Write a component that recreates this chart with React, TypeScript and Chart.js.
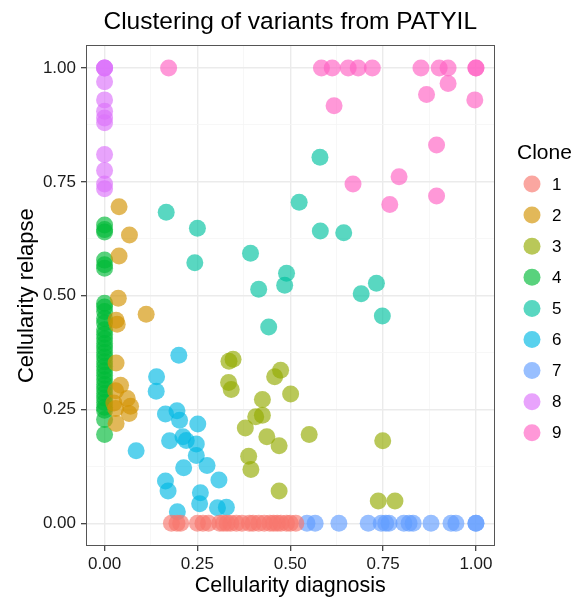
import React, { useEffect, useRef } from 'react';
import { Chart, registerables } from 'chart.js';

Chart.register(...registerables);

const chartTitle = 'Clustering of variants from PATYIL';
const xAxisTitle = 'Cellularity diagnosis';
const yAxisTitle = 'Cellularity relapse';
const legendTitle = 'Clone';

const cloneNames = ['1', '2', '3', '4', '5', '6', '7', '8', '9'];
const cloneColors = ['#F8766D', '#D39200', '#93AA00', '#00BA38', '#00C19F', '#00B9E3', '#619CFF', '#DB72FB', '#FF61C3'];

const majorTicks = [0, 0.25, 0.5, 0.75, 1];
const tickLabels = ['0.00', '0.25', '0.50', '0.75', '1.00'];
const minorTicks = [0.125, 0.375, 0.625, 0.875];

const clone1X = [0.18, 0.195, 0.205, 0.25, 0.265, 0.28, 0.31, 0.32, 0.33, 0.34, 0.355, 0.37, 0.39, 0.4, 0.415, 0.43, 0.445, 0.455, 0.465, 0.475, 0.49, 0.5, 0.515];
const clone1Y = [0, 0, 0, 0, 0, 0, 0, 0, 0, 0, 0, 0, 0, 0, 0, 0, 0, 0, 0, 0, 0, 0, 0];

const clone2X = [0.039, 0.067, 0.039, 0.037, 0.112, 0.031, 0.034, 0.031, 0.043, 0.03, 0.061, 0.07, 0.066, 0.03, 0.031, 0.025];
const clone2Y = [0.695, 0.633, 0.587, 0.494, 0.459, 0.446, 0.437, 0.352, 0.303, 0.291, 0.274, 0.257, 0.241, 0.252, 0.219, 0.264];

const clone3X = [0.335, 0.346, 0.334, 0.341, 0.474, 0.458, 0.501, 0.425, 0.425, 0.407, 0.379, 0.437, 0.47, 0.551, 0.749, 0.388, 0.394, 0.47, 0.737, 0.782];
const clone3Y = [0.356, 0.36, 0.309, 0.294, 0.336, 0.322, 0.284, 0.272, 0.237, 0.234, 0.209, 0.19, 0.17, 0.195, 0.181, 0.147, 0.118, 0.071, 0.049, 0.049];

const clone4X = [0, 0, 0, 0, 0, 0, 0, 0, 0, 0, 0, 0, 0, 0, 0, 0, 0, 0, 0, 0, 0, 0, 0, 0, 0, 0, 0, 0, 0, 0, 0, 0];
const clone4Y = [0.655, 0.645, 0.64, 0.578, 0.568, 0.56, 0.483, 0.475, 0.465, 0.45, 0.44, 0.425, 0.415, 0.405, 0.395, 0.385, 0.375, 0.365, 0.355, 0.345, 0.335, 0.325, 0.315, 0.305, 0.295, 0.285, 0.275, 0.265, 0.255, 0.248, 0.228, 0.195];

const clone5X = [0.166, 0.25, 0.243, 0.393, 0.415, 0.442, 0.49, 0.485, 0.58, 0.524, 0.581, 0.644, 0.732, 0.691, 0.748];
const clone5Y = [0.683, 0.648, 0.572, 0.593, 0.514, 0.431, 0.549, 0.523, 0.804, 0.705, 0.642, 0.638, 0.527, 0.504, 0.455];

const clone6X = [0.2, 0.14, 0.139, 0.164, 0.195, 0.202, 0.251, 0.175, 0.211, 0.22, 0.247, 0.247, 0.085, 0.213, 0.276, 0.164, 0.171, 0.308, 0.258, 0.256, 0.304, 0.328, 0.196];
const clone6Y = [0.369, 0.322, 0.29, 0.24, 0.247, 0.226, 0.218, 0.181, 0.19, 0.182, 0.174, 0.149, 0.159, 0.122, 0.127, 0.093, 0.071, 0.095, 0.067, 0.043, 0.034, 0.035, 0.025];

const clone7X = [0.545, 0.567, 0.631, 0.71, 0.745, 0.757, 0.766, 0.806, 0.82, 0.831, 0.879, 0.933, 0.946, 1.0, 1.0];
const clone7Y = [0, 0, 0, 0, 0, 0, 0, 0, 0, 0, 0, 0, 0, 0, 0];

const clone8X = [0, 0, 0, 0, 0, 0, 0, 0, 0, 0, 0, 0];
const clone8Y = [1.0, 1.0, 1.0, 0.97, 0.93, 0.905, 0.89, 0.88, 0.81, 0.775, 0.745, 0.735];

const clone9X = [0.1725, 0.584, 0.613, 0.656, 0.683, 0.721, 0.852, 0.901, 0.925, 1.0, 1.0, 0.925, 0.867, 0.997, 0.618, 0.894, 0.793, 0.669, 0.768, 0.894];
const clone9Y = [1, 1, 1, 1, 1, 1, 1, 1, 1, 1, 1, 0.966, 0.942, 0.93, 0.917, 0.831, 0.761, 0.745, 0.7, 0.719];

const cloneXs = [clone1X, clone2X, clone3X, clone4X, clone5X, clone6X, clone7X, clone8X, clone9X];
const cloneYs = [clone1Y, clone2Y, clone3Y, clone4Y, clone5Y, clone6Y, clone7Y, clone8Y, clone9Y];

const FONT = '"Liberation Sans", Arial, Helvetica, sans-serif';
const ALPHA = 0.65;

function withAlpha(hex: string, a: number) {
  const r = parseInt(hex.slice(1, 3), 16);
  const g = parseInt(hex.slice(3, 5), 16);
  const b = parseInt(hex.slice(5, 7), 16);
  return `rgba(${r},${g},${b},${a})`;
}

const isMajor = (v: number) => majorTicks.some((m) => Math.abs(m - v) < 1e-9);
const gridValues = [...majorTicks, ...minorTicks].sort((a, b) => a - b);

function makeScale(isX: boolean) {
  return {
    type: 'linear',
    min: -0.05,
    max: 1.05,
    afterBuildTicks: (axis: any) => {
      axis.ticks = gridValues.map((v) => ({ value: v }));
    },
    afterFit: (axis: any) => {
      if (isX) axis.height = 51;
      else axis.width = 86;
    },
    ticks: {
      autoSkip: false,
      maxRotation: 0,
      padding: isX ? 3 : 5,
      color: '#1a1a1a',
      font: { family: FONT, size: 17 },
      callback: (v: number) => {
        const k = majorTicks.findIndex((m) => Math.abs(m - v) < 1e-9);
        return k >= 0 ? tickLabels[k] : '';
      },
    },
    grid: {
      color: (ctx: any) => (ctx.tick && isMajor(ctx.tick.value) ? '#EBEBEB' : '#F5F5F5'),
      lineWidth: (ctx: any) => (ctx.tick && isMajor(ctx.tick.value) ? 1.4 : 0.8),
      tickColor: (ctx: any) => (ctx.tick && isMajor(ctx.tick.value) ? '#333333' : 'rgba(0,0,0,0)'),
      tickLength: 5,
      tickWidth: 1.2,
    },
    border: { display: false },
    title: {
      display: true,
      text: isX ? xAxisTitle : yAxisTitle,
      color: '#000',
      font: isX ? { family: FONT, size: 21.5, lineHeight: 1.05 } : { family: FONT, size: 22, lineHeight: 1.2 },
      padding: isX ? { top: 0, bottom: 0 } : { top: 14, bottom: 0 },
    },
  };
}

const panelAndLegend = {
  id: 'panelAndLegend',
  afterDraw(chart: any) {
    const { ctx, chartArea } = chart;
    ctx.save();
    ctx.strokeStyle = '#555555';
    ctx.lineWidth = 1;
    ctx.strokeRect(
      Math.round(chartArea.left) + 0.5,
      Math.round(chartArea.top) + 0.5,
      Math.round(chartArea.right - chartArea.left) - 1,
      Math.round(chartArea.bottom - chartArea.top) - 1
    );
    ctx.fillStyle = '#000';
    ctx.textBaseline = 'middle';
    ctx.textAlign = 'left';
    ctx.font = `21px ${FONT}`;
    ctx.fillText(legendTitle, 517, 153);
    ctx.font = `17px ${FONT}`;
    chart.data.datasets.forEach((ds: any, i: number) => {
      const y = 184 + i * 31.1;
      ctx.beginPath();
      ctx.arc(532, y, 8.5, 0, Math.PI * 2);
      ctx.fillStyle = ds.backgroundColor;
      ctx.fill();
      ctx.fillStyle = '#000';
      ctx.fillText(ds.label, 552, y + 1);
    });
    ctx.restore();
  },
};

export default function App() {
  const canvasRef = useRef<HTMLCanvasElement>(null);

  useEffect(() => {
    document.body.style.margin = '0';
    const canvas = canvasRef.current;
    if (!canvas) return;
    const datasets = cloneNames.map((name, i) => ({
      label: name,
      data: cloneXs[i].map((x, j) => ({ x, y: cloneYs[i][j] })),
      backgroundColor: withAlpha(cloneColors[i], ALPHA),
      borderWidth: 0,
      pointRadius: 8.5,
      pointHoverRadius: 8.5,
    }));
    const chart = new Chart(canvas, {
      type: 'scatter',
      data: { datasets },
      options: {
        responsive: false,
        animation: false,
        devicePixelRatio: 1,
        layout: { padding: { left: 0, right: 79.5, top: 0, bottom: 0 } },
        plugins: {
          legend: { display: false },
          tooltip: { enabled: false },
          title: {
            display: true,
            text: chartTitle,
            color: '#000',
            fullSize: false,
            font: { family: FONT, size: 24.5, weight: 'normal', lineHeight: 1.2 },
            padding: { top: 8, bottom: 7.85 },
          },
        },
        scales: {
          x: makeScale(true) as any,
          y: makeScale(false) as any,
        },
      },
      plugins: [panelAndLegend],
    });
    return () => chart.destroy();
  }, []);

  return (
    <div style={{ width: 574, height: 597 }}>
      <canvas ref={canvasRef} width={574} height={597} />
    </div>
  );
}
